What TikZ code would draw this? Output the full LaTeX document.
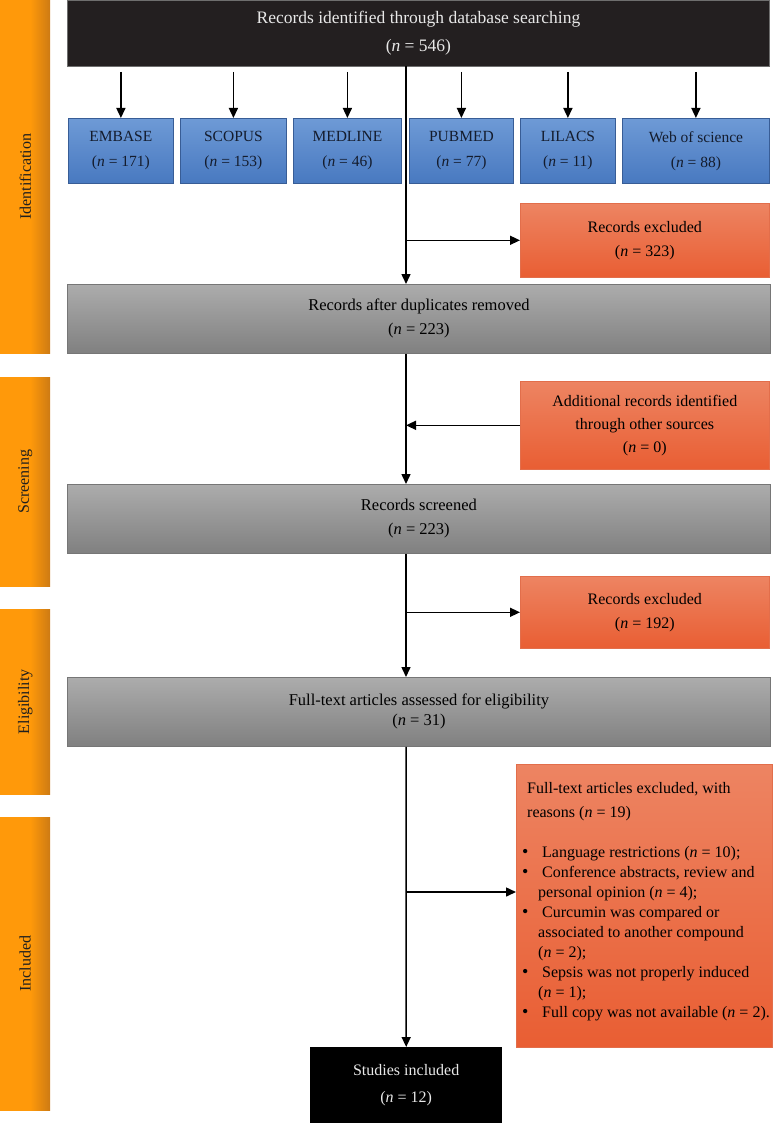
\documentclass[tikz,border=0pt]{standalone}
\usepackage{fontspec}
\setmainfont{Liberation Serif}
\usetikzlibrary{arrows.meta}
\definecolor{sideA}{RGB}{255,153,10}
\definecolor{sideB}{RGB}{204,122,20}
\definecolor{blueA}{RGB}{110,154,214}
\definecolor{blueB}{RGB}{72,121,192}
\definecolor{blueborder}{RGB}{56,93,150}
\definecolor{bluetext}{RGB}{20,28,45}
\definecolor{grayA}{RGB}{172,172,172}
\definecolor{grayB}{RGB}{128,128,128}
\definecolor{grayborder}{RGB}{118,118,118}
\definecolor{orA}{RGB}{237,132,98}
\definecolor{orB}{RGB}{233,94,51}
\definecolor{orborder}{RGB}{226,110,75}
\definecolor{topdark}{RGB}{35,31,32}
\definecolor{topborder}{RGB}{110,110,110}
\definecolor{lighttext}{RGB}{232,232,232}
\pgfdeclarehorizontalshading{sideshade}{100bp}{color(0bp)=(sideA); color(25bp)=(sideA); color(55bp)=(sideA); color(75bp)=(sideB); color(100bp)=(sideB)}
\newcommand\bul{\makebox[20pt][l]{\fontsize{18}{18}\selectfont\textbullet}}
\newcommand\ind{\hspace*{16pt}}
\begin{document}
\begin{tikzpicture}[x=1pt,y=-1pt,
  box/.style={rectangle, inner sep=0pt, anchor=north west, align=center},
  bluebox/.style={box, draw=blueborder, line width=0.8pt, top color=blueA, bottom color=blueB, text=bluetext, minimum height=65pt, font=\fontsize{15.5}{25}\selectfont},
  graybox/.style={box, draw=grayborder, line width=0.8pt, top color=grayA, bottom color=grayB, text=black, minimum width=703pt, minimum height=69pt, font=\fontsize{16.5}{24}\selectfont},
  orbox/.style={box, draw=orborder, line width=0.6pt, top color=orA, bottom color=orB, text=black, font=\fontsize{16}{24}\selectfont},
  sidebar/.style={rectangle, inner sep=0pt, anchor=north west, shade, shading=sideshade, minimum width=50pt},
  sidelabel/.style={rotate=90, inner sep=0pt, text=black!88, font=\fontsize{16}{16}\selectfont},
  arr/.style={line width=1.5pt, -{Triangle[length=10pt,width=9pt]}},
]
\useasboundingbox (0,0) rectangle (773,1123);

% side bars
\node[sidebar, minimum height=353pt] (sb1) at (0,0) {};
\node[sidebar, minimum height=209pt] (sb2) at (0,377) {};
\node[sidebar, minimum height=185pt] (sb3) at (0,609) {};
\node[sidebar, minimum height=293pt] (sb4) at (0,817) {};
\node[sidelabel] (l1) at (sb1.center) {Identification};
\node[sidelabel] (l2) at (sb2.center) {Screening};
\node[sidelabel] (l3) at (sb3.center) {Eligibility};
\node[sidelabel] (l4) at (sb4.center) {Included};

% top box
\node[box, fill=topdark, draw=topborder, line width=0.8pt, minimum width=702pt, minimum height=66pt, text=lighttext, font=\fontsize{17.5}{28}\selectfont] (top) at (67,0) {Records identified through database searching\\(\textit{n} = 546)};

% databases
\node[bluebox, minimum width=105pt] (emb) at (68,118) {EMBASE\\(\textit{n} = 171)};
\node[bluebox, minimum width=106pt] (sco) at (180,118) {SCOPUS\\(\textit{n} = 153)};
\node[bluebox, minimum width=108pt] (med) at (293,118) {MEDLINE\\(\textit{n} = 46)};
\node[bluebox, minimum width=104pt] (pub) at (409,118) {PUBMED\\(\textit{n} = 77)};
\node[bluebox, minimum width=95pt] (lil) at (520,118) {LILACS\\(\textit{n} = 11)};
\node[bluebox, minimum width=147pt] (wos) at (622,118) {Web of science\\(\textit{n} = 88)};

% orange boxes
\node[orbox, minimum width=249pt, minimum height=74pt] (ex1) at (520,203) {Records excluded\\(\textit{n} = 323)};
\node[orbox, minimum width=249pt, minimum height=88pt, font=\fontsize{16}{23}\selectfont] (add) at (520,381) {Additional records identified\\through other sources\\(\textit{n} = 0)};
\node[orbox, minimum width=249pt, minimum height=72pt] (ex2) at (520,576) {Records excluded\\(\textit{n} = 192)};
\node[orbox, minimum width=256pt, minimum height=283pt] (ex3) at (516,764) {};
\node[anchor=west, align=left, inner sep=0pt, font=\fontsize{16}{20}\selectfont] (ex3t) at (522,902) {%
\hspace*{5pt}Full-text articles excluded, with\\[4pt]
\hspace*{5pt}reasons (\textit{n} = 19)\\[20pt]
\bul Language restrictions (\textit{n} = 10);\\
\bul Conference abstracts, review and\\
\ind personal opinion (\textit{n} = 4);\\
\bul Curcumin was compared or\\
\ind associated to another compound\\
\ind (\textit{n} = 2);\\
\bul Sepsis was not properly induced\\
\ind (\textit{n} = 1);\\
\bul Full copy was not available (\textit{n} = 2).};

% gray boxes
\node[graybox] (dup) at (67,284) {Records after duplicates removed\\(\textit{n} = 223)};
\node[graybox] (scr) at (67,484) {Records screened\\(\textit{n} = 223)};
\node[graybox, font=\fontsize{16.5}{20}\selectfont] (full) at (67,677) {Full-text articles assessed for eligibility\\(\textit{n} = 31)};

% included
\node[box, fill=black, minimum width=192pt, minimum height=76pt, text=lighttext, font=\fontsize{16}{27}\selectfont] (inc) at (310,1047) {Studies included\\(\textit{n} = 12)};

% connectors
\foreach \b in {emb,sco,med,pub,lil,wos}
  \draw[arr, shorten <=5pt] (\b.north |- top.south) -- (\b.north);
\coordinate (m0) at (406,66);
\draw[arr] (m0) -- (m0 |- dup.north);
\draw[arr] (m0 |- ex1.west) -- (ex1.west);
\draw[arr] (m0 |- dup.south) -- (m0 |- scr.north);
\draw[arr] (add.west) -- (add.west -| m0);
\draw[arr] (m0 |- scr.south) -- (m0 |- full.north);
\draw[arr] (m0 |- ex2.west) -- (ex2.west);
\draw[arr] (m0 |- full.south) -- (inc.north);
\coordinate (j3) at (406,892);
\draw[arr] (j3) -- (j3 -| ex3.west);
\end{tikzpicture}
\end{document}
